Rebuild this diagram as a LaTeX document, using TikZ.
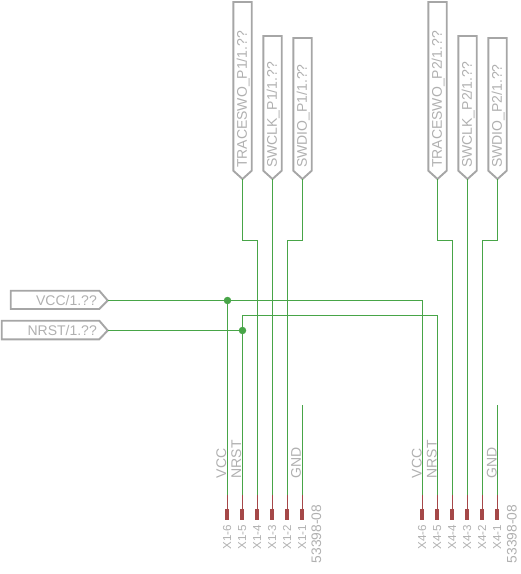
\documentclass[tikz,border=0pt]{standalone}
\usepackage{fontspec}
\setmainfont{Liberation Sans}
\definecolor{wirec}{RGB}{72,165,72}
\definecolor{flagc}{RGB}{166,166,166}
\definecolor{textc}{RGB}{176,176,176}
\definecolor{padc}{RGB}{165,72,72}
\tikzset{
  wire/.style={draw=wirec,line width=1.1pt},
  flagline/.style={draw=flagc,line width=1.9pt,line join=miter},
  stem/.style={draw=padc,line width=1.1pt},
  dot/.style={circle,fill=wirec,inner sep=0pt,minimum size=7.5pt},
  big/.style={text=textc,inner sep=0pt,font=\fontsize{14}{14}\selectfont},
  small/.style={text=textc,inner sep=0pt,font=\fontsize{11.6}{12}\selectfont},
  up/.style={rotate=90,anchor=base west}
}
\begin{document}
\begin{tikzpicture}[x=1pt,y=-1pt]
\useasboundingbox (0,0) rectangle (521,574);
% vertical flags: name, tip x, top y, text
\foreach \n/\x/\t/\s in {fa/242.5/2/{TRACESWO\_P1/1.??},fb/272.5/36/{SWCLK\_P1/1.??},fc/302.5/38/{SWDIO\_P1/1.??},
                         fd/437.5/2/{TRACESWO\_P2/1.??},fe/467.5/36/{SWCLK\_P2/1.??},ff/497.5/38/{SWDIO\_P2/1.??}}{
  \draw[flagline] (\x-9.2,\t) -- (\x+9.2,\t) -- (\x+9.2,170.7) -- (\x,179) -- (\x-9.2,170.7) -- cycle;
  \coordinate (\n) at (\x,179);
  \node[big,up] (\n t) at (\x+4.3,168) {\s};
}
% pins: name, x, label
\foreach \n/\x/\s in {a6/227.5/X1-6,a5/242.5/X1-5,a4/257.5/X1-4,a3/272.5/X1-3,a2/287.5/X1-2,a1/302.5/X1-1,
                      b6/422.5/X4-6,b5/437.5/X4-5,b4/452.5/X4-4,b3/467.5/X4-3,b2/482.5/X4-2,b1/497.5/X4-1}{
  \coordinate (\n) at (\x,495);
  \coordinate (\n p) at (\x,509);
  \draw[stem] (\n) -- (\n p);
  \fill[padc] (\x-2.5,509) rectangle (\x+1.5,519.5);
  \node[small,up] (\n t) at (\x+3.6,549.5) {\s};
}
% horizontal flags
\draw[flagline] (10.7,290.7) -- (99.3,290.7) -- (107.7,300.5) -- (99.3,309) -- (10.7,309) -- cycle;
\draw[flagline] (1.7,320.7) -- (99.3,320.7) -- (107.7,330.5) -- (99.3,339.3) -- (1.7,339.3) -- cycle;
\coordinate (vcc) at (107.7,300.5);
\coordinate (nrst) at (107.7,330.5);
\node[big,anchor=base east] (vcct) at (97,305) {VCC/1.??};
\node[big,anchor=base east] (nrstt) at (97,335) {NRST/1.??};
% junctions
\node[dot] (j1) at (227.5,300.5) {};
\node[dot] (j2) at (242.5,330.5) {};
% wires
\draw[wire] (fa) |- (257.5,240.5) -- (a4);
\draw[wire] (fb) -- (a3);
\draw[wire] (fc) |- (287.5,240.5) -- (a2);
\draw[wire] (fd) |- (452.5,240.5) -- (b4);
\draw[wire] (fe) -- (b3);
\draw[wire] (ff) |- (482.5,240.5) -- (b2);
\draw[wire] (vcc) -- (j1.center) -- (422.5,300.5) -- (b6);
\draw[wire] (j1.center) -- (a6);
\draw[wire] (nrst) -- (j2.center);
\draw[wire] (a5) -- (242.5,315.5) -- (437.5,315.5) -- (b5);
\coordinate (g1) at (302.5,405);
\coordinate (g2) at (497.5,405);
\draw[wire] (g1) -- (a1);
\draw[wire] (g2) -- (b1);
% net labels at pins
\foreach \n/\x/\s in {l1/226/VCC,l2/241/NRST,l3/300.8/GND,l4/421.7/VCC,l5/436.7/NRST,l6/496.7/GND}{
  \node[big,up] (\n) at (\x,478.5) {\s};
}
\node[big,up,font=\fontsize{13.8}{14}\selectfont] (pa) at (321,563.5) {53398-08};
\node[big,up,font=\fontsize{13.8}{14}\selectfont] (pb) at (516.7,563.5) {53398-08};
\end{tikzpicture}
\end{document}
